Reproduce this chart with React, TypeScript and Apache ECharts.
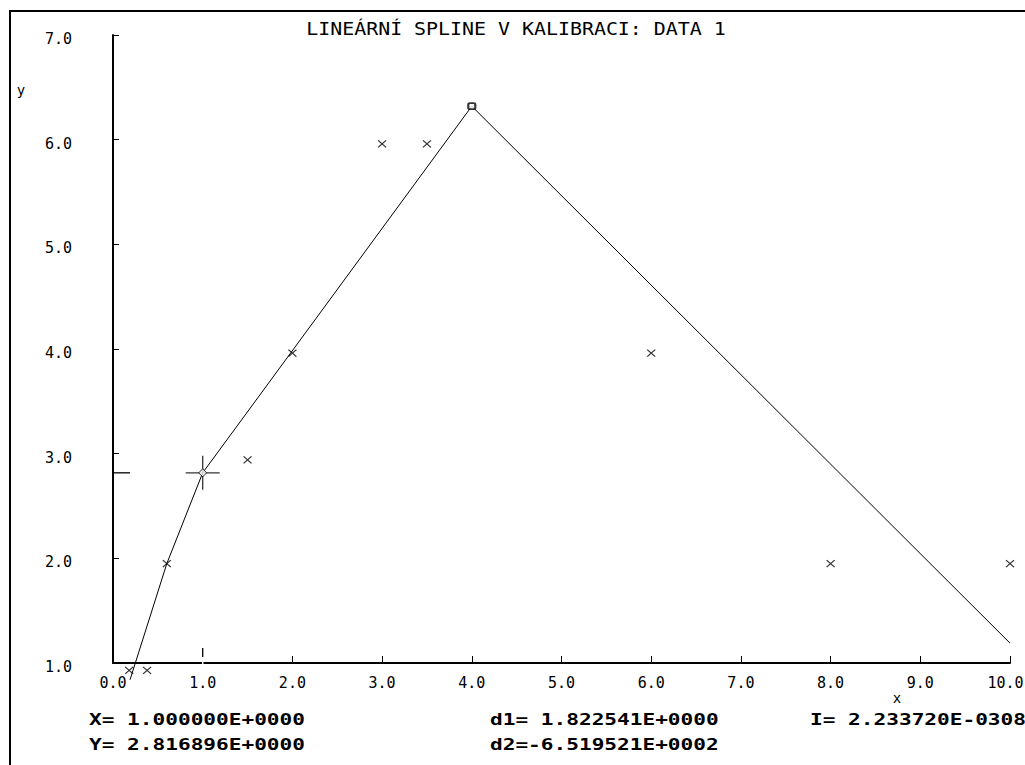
import React, { useEffect, useRef } from "react";
import * as echarts from "echarts";

// Measured calibration points (x markers)
const measX = [0.18, 0.38, 0.6, 1.5, 2.0, 3.0, 3.5, 6.0, 8.0, 10.0];
const measY = [0.93, 0.93, 1.95, 2.94, 3.96, 5.96, 5.96, 3.96, 1.95, 1.95];

// Linear spline knots
const splineX = [0.19, 0.6, 1.0, 4.0, 10.0];
const splineY = [0.84, 1.95, 2.816896, 6.32, 1.19];

// Highlighted knot (apex)
const apexX = [4.0];
const apexY = [6.32];

// Cursor readout
const cursorX = 1.0;
const cursorY = 2.816896;
const d1 = 1.822541;
const d2 = -651.9521;
const integralI = 2.23372e-308;

const titleText = "LINEÁRNÍ SPLINE V KALIBRACI: DATA 1";

function fmtE(v: number): string {
  const s = v.toExponential(6);
  const [m, e] = s.split("e");
  const sign = e[0] === "-" ? "-" : "+";
  const digits = e.replace(/[+-]/, "").padStart(4, "0");
  const mant = v < 0 ? m : " " + m;
  return `${mant}E${sign}${digits}`;
}

const MONO = '"DejaVu Sans Mono", monospace';

export default function App() {
  const ref = useRef<HTMLDivElement>(null);

  useEffect(() => {
    document.body.style.margin = "0";
    if (!ref.current) return;
    const chart = echarts.init(ref.current, null, { renderer: "svg" });

    const option: any = {
      animation: false,
      backgroundColor: "#ffffff",
      grid: {
        left: 113,
        right: 15,
        top: 35,
        bottom: 102,
        containLabel: false,
        outerBoundsMode: "none",
      },
      xAxis: {
        type: "value",
        min: 0,
        max: 10,
        interval: 1,
        axisLine: { show: true, onZero: false, lineStyle: { color: "#000", width: 2 } },
        axisTick: { show: true, inside: true, length: 7, lineStyle: { color: "#000", width: 1 } },
        axisLabel: {
          formatter: (v: number) => (v >= 10 ? `{last|${v.toFixed(1)}}` : v.toFixed(1)),
          color: "#000",
          fontFamily: MONO,
          fontSize: 15,
          margin: 12,
          rich: {
            last: { fontFamily: MONO, fontSize: 15, color: "#000", padding: [0, 9, 0, 0] },
          },
        },
        splitLine: { show: false },
      },
      yAxis: {
        type: "value",
        min: 1,
        max: 7,
        interval: 1,
        axisLine: { show: true, onZero: false, lineStyle: { color: "#000", width: 2 } },
        axisTick: { show: true, inside: true, length: 6, lineStyle: { color: "#000", width: 1 } },
        axisLabel: {
          formatter: (v: number) => v.toFixed(1),
          color: "#000",
          fontFamily: MONO,
          fontSize: 15,
          margin: 41,
          verticalAlign: "top",
          lineHeight: 8,
        },
        splitLine: { show: false },
      },
      series: [
        {
          type: "line",
          data: splineX.map((x, i) => [x, splineY[i]]),
          symbol: "none",
          clip: false,
          lineStyle: { color: "#000", width: 1 },
          z: 2,
        },
        {
          type: "scatter",
          data: measX.map((x, i) => [x, measY[i]]),
          symbol: "path://M0,0L8,7M8,0L0,7",
          symbolSize: [8, 7],
          clip: false,
          itemStyle: { color: "rgba(0,0,0,0)", borderColor: "#000", borderWidth: 1.2 },
          z: 3,
        },
        {
          type: "scatter",
          data: apexX.map((x, i) => [x, apexY[i]]),
          symbol: "roundRect",
          symbolSize: [7, 6],
          clip: false,
          itemStyle: { color: "#fff", borderColor: "#000", borderWidth: 2 },
          z: 4,
        },
        {
          type: "scatter",
          data: [[cursorX, cursorY]],
          symbol: "path://M0,17L34,17M17,0L17,34",
          symbolSize: [34, 34],
          clip: false,
          itemStyle: { color: "rgba(0,0,0,0)", borderColor: "#000", borderWidth: 1.3 },
          z: 5,
        },
        {
          type: "scatter",
          data: [[cursorX, cursorY]],
          symbol: "diamond",
          symbolSize: [8, 8],
          clip: false,
          itemStyle: { color: "#fff", borderColor: "#000", borderWidth: 1 },
          z: 6,
        },
      ],
    };

    chart.setOption(option);

    const [cx, cy] = chart.convertToPixel({ gridIndex: 0 }, [cursorX, cursorY]) as number[];
    const [ox, oy] = chart.convertToPixel({ gridIndex: 0 }, [0, 1]) as number[];

    const boldFont = `bold 16px ${MONO}`;
    const sx = 1.32;

    chart.setOption({
      graphic: [
        {
          type: "polyline",
          shape: { points: [[10, 765], [10, 11], [1025, 11]] },
          style: { stroke: "#000", lineWidth: 2, fill: "none" },
          silent: true,
        },
        {
          type: "text",
          x: 516,
          y: 28,
          scaleX: 1.107,
          style: {
            text: titleText,
            font: `18px ${MONO}`,
            fill: "#000",
            textAlign: "center",
            textVerticalAlign: "middle",
          },
        },
        {
          type: "text",
          x: 21,
          y: 90,
          style: { text: "y", font: `14px ${MONO}`, fill: "#000", textAlign: "center", textVerticalAlign: "middle" },
        },
        {
          type: "text",
          x: 897,
          y: 698,
          style: { text: "x", font: `14px ${MONO}`, fill: "#000", textAlign: "center", textVerticalAlign: "middle" },
        },
        {
          type: "line",
          shape: { x1: ox, y1: cy, x2: ox + 17, y2: cy },
          style: { stroke: "#000", lineWidth: 1.3 },
          z: 10,
        },
        {
          type: "line",
          shape: { x1: cx, y1: oy - 7, x2: cx, y2: oy + 1 },
          style: { stroke: "#fff", lineWidth: 1.5 },
          z: 10,
        },
        {
          type: "line",
          shape: { x1: cx, y1: oy - 15, x2: cx, y2: oy - 6 },
          style: { stroke: "#000", lineWidth: 1.3 },
          z: 11,
        },
        {
          type: "text",
          x: 89,
          y: 719,
          scaleX: sx,
          style: { text: `X=${fmtE(cursorX)}`, font: boldFont, fill: "#000", textAlign: "left", textVerticalAlign: "middle" },
        },
        {
          type: "text",
          x: 89,
          y: 744,
          scaleX: sx,
          style: { text: `Y=${fmtE(cursorY)}`, font: boldFont, fill: "#000", textAlign: "left", textVerticalAlign: "middle" },
        },
        {
          type: "text",
          x: 490,
          y: 719,
          scaleX: sx,
          style: { text: `d1=${fmtE(d1)}`, font: boldFont, fill: "#000", textAlign: "left", textVerticalAlign: "middle" },
        },
        {
          type: "text",
          x: 490,
          y: 744,
          scaleX: sx,
          style: { text: `d2=${fmtE(d2)}`, font: boldFont, fill: "#000", textAlign: "left", textVerticalAlign: "middle" },
        },
        {
          type: "text",
          x: 810,
          y: 719,
          scaleX: sx,
          style: { text: `I=${fmtE(integralI)}`, font: boldFont, fill: "#000", textAlign: "left", textVerticalAlign: "middle" },
        },
      ],
    });

    return () => {
      chart.dispose();
    };
  }, []);

  return (
    <div
      ref={ref}
      style={{ position: "absolute", left: 0, top: 0, width: 1025, height: 765 }}
    />
  );
}
